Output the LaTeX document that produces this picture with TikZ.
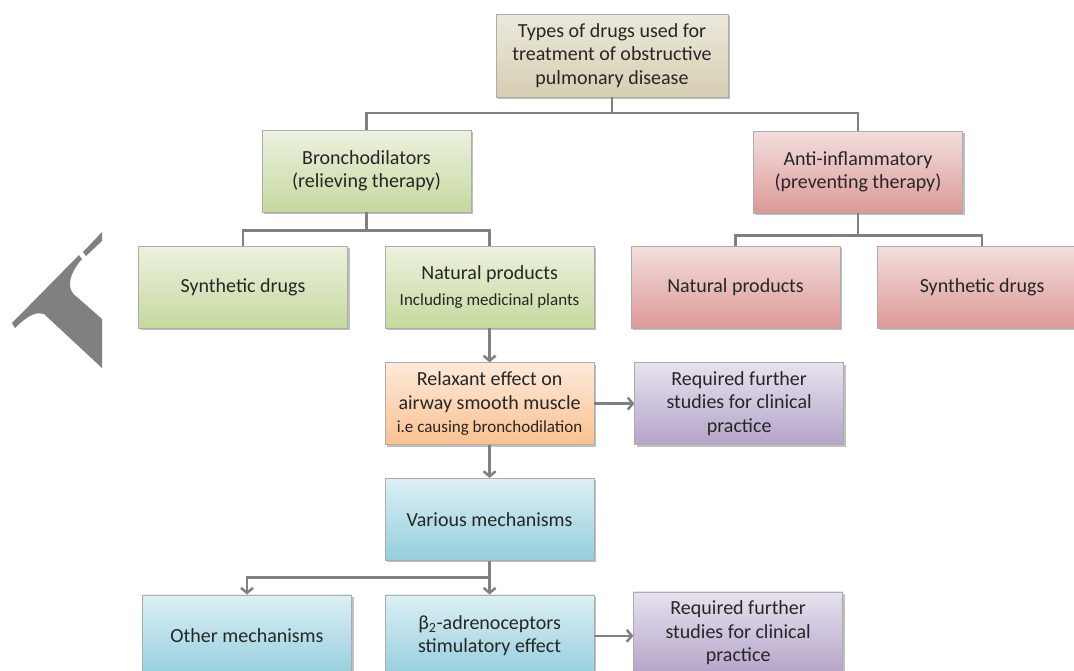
\documentclass[tikz,border=0pt]{standalone}
\usepackage{fontspec}
\setmainfont{Carlito}
\usepackage{tikz}
\usetikzlibrary{positioning,shadows,arrows.meta}
\definecolor{tantop}{RGB}{236,233,220}
\definecolor{tanbot}{RGB}{214,206,178}
\definecolor{greentop}{RGB}{236,242,224}
\definecolor{greenbot}{RGB}{198,216,158}
\definecolor{redtop}{RGB}{243,222,221}
\definecolor{redbot}{RGB}{220,153,151}
\definecolor{orangetop}{RGB}{253,234,218}
\definecolor{orangebot}{RGB}{250,193,145}
\definecolor{purpletop}{RGB}{231,226,238}
\definecolor{purplebot}{RGB}{180,164,201}
\definecolor{bluetop}{RGB}{221,239,245}
\definecolor{bluebot}{RGB}{148,206,221}
\definecolor{linkgray}{RGB}{128,128,128}
\newcommand{\smalltext}{\fontsize{17}{20}\selectfont}
\tikzset{ box/.style={draw=gray!65,line width=0.6pt,minimum width=209pt,minimum height=82pt,align=center,text=black!85,font=\fontsize{20}{23.5}\selectfont,drop shadow={shadow xshift=2pt,shadow yshift=-2pt,opacity=0.25,fill=black}},
  tanbox/.style={box,top color=tantop,bottom color=tanbot},
  greenbox/.style={box,top color=greentop,bottom color=greenbot},
  redbox/.style={box,top color=redtop,bottom color=redbot},
  orangebox/.style={box,top color=orangetop,bottom color=orangebot},
  purplebox/.style={box,top color=purpletop,bottom color=purplebot},
  bluebox/.style={box,top color=bluetop,bottom color=bluebot},
  link/.style={draw=linkgray,line width=2.5pt},
  arrow/.style={link,-{Straight Barb[length=5pt,width=12pt]}},
  wmark/.style={fill=linkgray} }

\begin{document}
\begin{tikzpicture}[x=1pt,y=-1pt,node distance=37pt]
  \useasboundingbox (0,0) rectangle (1074,670);
  \clip (0,0) rectangle (1074,670);
  % stray mark on the left
  \fill[wmark] (12,323) -- (79,255) -- (82,259) .. controls (68,275) and (66,290) .. (77,297) -- (102,319) -- (102,368) -- (44,314) .. controls (38,312) and (30,313) .. (15,328) -- cycle;
  \fill[wmark] (83,252) -- (102,232) -- (102,241) -- (86,256) -- cycle;
  % boxes
  \node[tanbox,minimum width=232pt,minimum height=83pt] (top) at (612,55.5) {Types of drugs used for\\treatment of obstructive\\pulmonary disease};
  \node[greenbox] (bron) at (366.5,171) {Bronchodilators\\(relieving therapy)};
  \node[redbox] (anti) at (858,172) {Anti-inflammatory\\(preventing therapy)};
  \node[greenbox] (syn1) at (243,287) {Synthetic drugs};
  \node[greenbox,right=of syn1] (nat1) {Natural products\\[3pt]{\smalltext Including medicinal plants}};
  \node[redbox] (nat2) at (735.5,287) {Natural products};
  \node[redbox,right=of nat2] (syn2) {Synthetic drugs};
  \node[orangebox,below=34pt of nat1] (relax) {Relaxant effect on\\airway smooth muscle\\{\smalltext i.e causing bronchodilation}};
  \node[purplebox,right=40pt of relax] (req1) {Required further\\studies for clinical\\practice};
  \node[bluebox,below=33pt of relax] (mech) {Various mechanisms};
  \node[bluebox,below=34pt of mech] (beta) {β\textsubscript{2}-adrenoceptors\\stimulatory effect};
  \node[bluebox,left=33pt of beta] (other) {Other mechanisms};
  \node[purplebox,right=39pt of beta,yshift=3pt] (req2) {Required further\\studies for clinical\\practice};
  % connectors
  \coordinate (j1) at (612,113);
  \draw[link] (top.south) -- (j1);
  \draw[link] (bron.north) |- (j1) -| (anti.north);
  \draw[link] (bron.south) -- ++(0,18) coordinate (j2);
  \draw[link] (syn1.north) |- (j2) -| (nat1.north);
  \draw[link] (anti.south) -- ++(0,22) coordinate (j3);
  \draw[link] (nat2.north) |- (j3) -| (syn2.north);
  \draw[arrow] (nat1) -- (relax);
  \draw[arrow] (relax.east) -- (relax.east -| req1.west);
  \draw[arrow] (relax) -- (mech);
  \draw[arrow] (mech.south) -- ++(0,17) -| (other.north);
  \draw[arrow] (mech) -- (beta);
  \draw[arrow] (beta.east) -- (beta.east -| req2.west);
\end{tikzpicture}
\end{document}
